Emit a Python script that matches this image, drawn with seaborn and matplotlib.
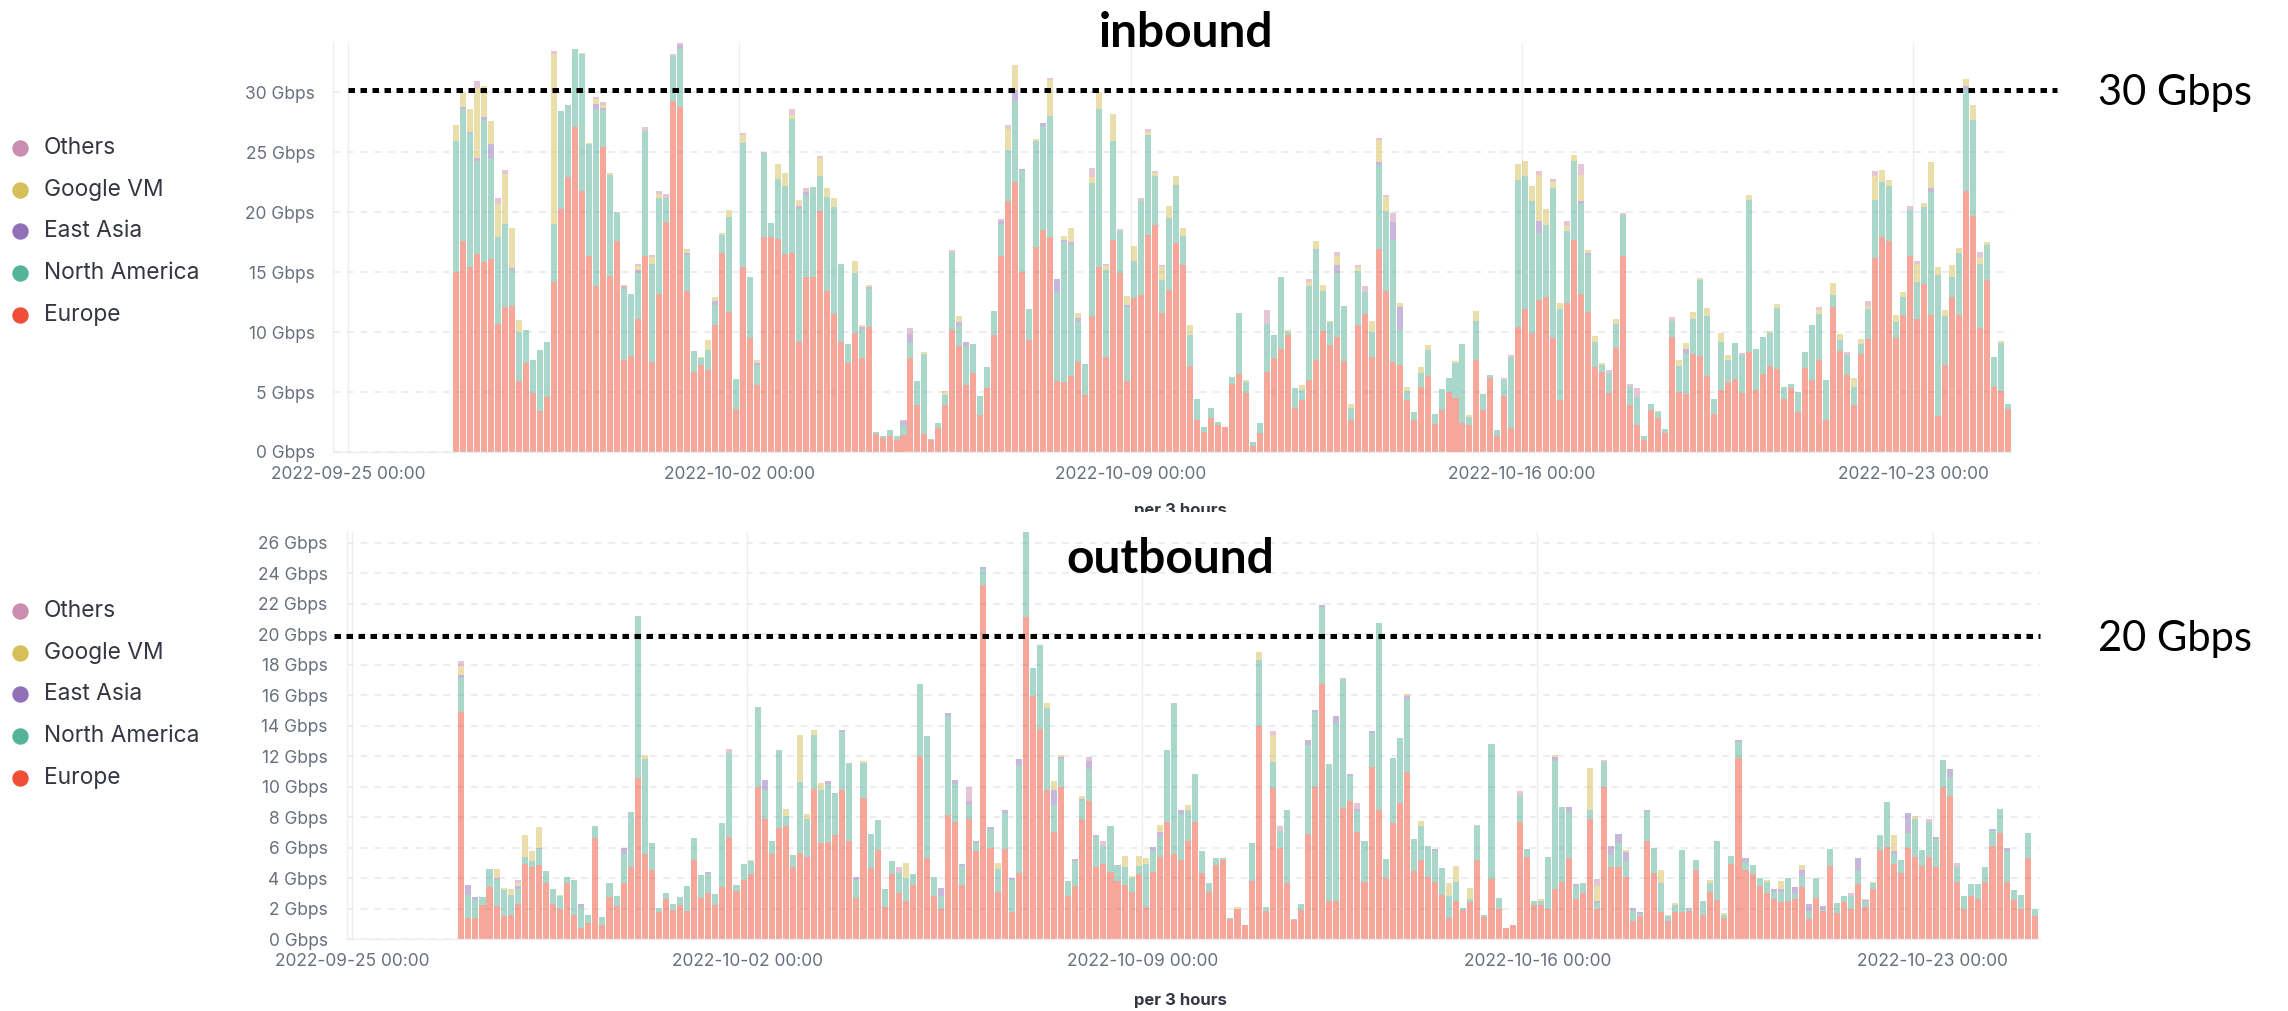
import numpy as np
import pandas as pd
import matplotlib
matplotlib.use("Agg")
import matplotlib.pyplot as plt
import seaborn as sns
from matplotlib.lines import Line2D
from matplotlib.patches import Rectangle

# ---------------- data ----------------
REGIONS = ["Others", "Google VM", "East Asia", "North America", "Europe"]
REGION_COLORS = {"Others": "#CA8EAE", "Google VM": "#D6BF57", "East Asia": "#9170B8",
                 "North America": "#54B399", "Europe": "#F04E37"}

START_HOUR = 45          # first bucket: 2022-09-26 21:00 (hours after 2022-09-25 00:00)
BIN_HOURS = 3
DATE_TICK_HOURS = [0, 168, 336, 504, 672]
DATE_TICK_LABELS = ["2022-09-25 00:00", "2022-10-02 00:00", "2022-10-09 00:00",
                    "2022-10-16 00:00", "2022-10-23 00:00"]
IN_YTICKS = [0, 5, 10, 15, 20, 25, 30]
OUT_YTICKS = [0, 2, 4, 6, 8, 10, 12, 14, 16, 18, 20, 22, 24, 26]
IN_THRESHOLD_LABEL = "30 Gbps"
OUT_THRESHOLD_LABEL = "20 Gbps"

IN_EUROPE = [
    15.0, 17.6, 15.4, 16.5, 15.8, 16.1, 10.7, 12.1, 12.2, 5.9,
    7.4, 4.9, 3.4, 4.6, 14.2, 20.3, 22.9, 27.1, 21.8, 16.3,
    13.8, 25.4, 14.7, 17.6, 7.7, 8.0, 11.1, 16.3, 7.5, 13.2,
    19.2, 29.25, 28.8, 13.4, 6.7, 7.25, 6.8, 10.6, 16.6, 11.7,
    3.6, 15.4, 9.5, 5.6, 17.9, 17.9, 17.75, 16.5, 16.55, 9.2,
    14.6, 14.6, 20.1, 13.4, 11.5, 9.2, 7.45, 9.9, 7.8, 10.4,
    1.5, 1.2, 1.3, 1.0, 1.4, 7.8, 3.9, 1.5, 1.0, 2.0,
    3.9, 10.2, 8.8, 5.55, 6.6, 3.1, 5.3, 9.75, 16.3, 20.9,
    22.5, 15.0, 9.3, 17.1, 18.55, 17.9, 5.9, 5.8, 6.3, 7.5,
    4.75, 11.3, 15.4, 7.95, 17.7, 14.9, 5.95, 12.8, 13.1, 18.1,
    18.9, 11.6, 13.5, 17.4, 15.6, 7.2, 2.7, 1.7, 2.85, 2.25,
    2.05, 5.7, 6.5, 4.9, 0.5, 1.55, 6.7, 7.8, 8.6, 9.75,
    3.7, 4.3, 6.0, 7.65, 10.1, 8.9, 9.6, 7.6, 2.65, 10.6,
    11.5, 7.95, 16.9, 13.4, 7.5, 7.25, 4.3, 2.7, 5.45, 6.3,
    2.3, 3.5, 5.0, 4.5, 2.4, 2.25, 7.65, 3.5, 6.2, 1.35,
    4.65, 2.0, 10.45, 11.9, 9.9, 12.7, 12.95, 9.5, 4.3, 12.4,
    17.7, 13.2, 11.7, 7.05, 6.65, 4.9, 8.7, 16.3, 3.9, 2.25,
    1.0, 3.5, 2.8, 1.55, 9.6, 5.0, 4.8, 8.2, 8.0, 6.35,
    3.2, 5.2, 5.8, 6.1, 4.95, 8.35, 5.2, 6.5, 7.15, 6.9,
    4.4, 5.3, 3.35, 7.0, 6.0, 7.65, 2.65, 12.1, 8.45, 6.4,
    3.9, 8.2, 9.4, 16.2, 17.9, 17.6, 9.5, 11.4, 16.3, 11.1,
    14.0, 11.4, 3.0, 7.25, 12.95, 11.4, 21.8, 19.7, 10.3, 14.3,
    5.45, 5.1, 3.55,
]
IN_NORTH_AMERICA = [
    10.9, 11.0, 11.2, 7.8, 11.9, 8.4, 7.2, 6.9, 3.0, 4.1,
    2.8, 2.8, 5.1, 4.6, 4.8, 8.1, 6.0, 6.5, 11.4, 9.4,
    14.8, 3.1, 8.4, 2.4, 5.9, 5.2, 3.8, 10.5, 8.2, 8.0,
    2.0, 3.8, 4.8, 3.0, 1.7, 0.55, 1.7, 1.65, 1.5, 7.9,
    2.5, 10.4, 5.1, 1.65, 7.0, 1.2, 5.0, 5.7, 11.25, 11.1,
    6.8, 7.5, 2.9, 7.9, 8.9, 6.5, 1.55, 5.0, 2.4, 3.2,
    0.2, 0.1, 0.5, 0.3, 0.85, 1.25, 2.0, 6.7, 0.1, 0.45,
    0.85, 6.35, 1.7, 3.25, 2.4, 1.6, 1.75, 2.0, 2.75, 4.3,
    6.8, 8.4, 2.6, 8.8, 8.65, 10.1, 7.4, 11.7, 10.95, 3.35,
    2.55, 11.1, 13.2, 7.25, 8.2, 3.5, 6.15, 3.1, 7.8, 8.3,
    4.1, 2.7, 6.0, 4.9, 2.4, 2.55, 1.7, 0.4, 0.8, 0.25,
    0.0, 0.55, 5.1, 0.95, 0.35, 0.85, 4.0, 1.95, 6.0, 0.25,
    1.6, 0.9, 7.8, 9.25, 3.35, 1.9, 5.3, 4.6, 1.0, 4.5,
    1.8, 2.05, 7.0, 6.7, 10.2, 2.95, 0.8, 0.6, 1.1, 2.2,
    0.9, 1.75, 1.2, 2.9, 6.6, 0.7, 3.25, 1.3, 0.2, 0.5,
    1.35, 5.95, 12.25, 11.1, 11.0, 5.6, 5.95, 12.55, 7.6, 6.0,
    6.6, 7.5, 4.7, 2.15, 0.6, 1.65, 2.0, 3.5, 1.55, 2.35,
    0.35, 0.5, 0.5, 0.35, 1.3, 2.15, 3.4, 2.9, 6.3, 4.95,
    1.25, 4.0, 1.9, 2.95, 3.15, 12.65, 3.35, 3.1, 2.75, 5.1,
    1.05, 0.4, 1.65, 1.3, 4.6, 3.85, 3.35, 1.0, 0.85, 1.7,
    1.55, 0.8, 2.5, 4.85, 4.6, 4.6, 1.35, 1.55, 3.9, 3.1,
    6.4, 10.3, 11.75, 4.05, 1.65, 5.15, 8.4, 8.0, 5.4, 3.0,
    2.5, 3.95, 0.45,
]
# small series: {bucket index: Gbps}
IN_EAST_ASIA = {1: 0.15, 2: 0.1, 3: 0.25, 4: 0.2, 5: 1.2, 8: 0.15, 20: 0.4, 21: 0.15, 24: 0.2,
                26: 0.3, 32: 0.3, 33: 0.2, 37: 0.3, 43: 0.2, 49: 0.2, 50: 0.3, 58: 0.2, 59: 0.15,
                64: 0.3, 65: 0.8, 72: 0.3, 73: 0.4, 78: 0.25, 80: 0.85, 81: 0.2, 84: 0.2, 86: 1.1,
                87: 0.15, 88: 0.3, 89: 0.35, 96: 0.15, 126: 0.7, 132: 0.3, 134: 1.5, 135: 1.9,
                155: 1.0, 161: 0.2, 162: 0.2, 176: 0.35, 211: 0.35, 216: 0.3}
IN_GOOGLE_VM = {0: 1.4, 1: 1.3, 2: 1.9, 3: 5.8, 4: 2.6, 5: 1.9, 6: 2.8, 7: 4.2, 8: 3.3, 9: 1.0,
                14: 14.2, 18: 0.1, 19: 0.1, 20: 0.4, 21: 0.25, 22: 0.2, 24: 0.15, 26: 0.3, 28: 0.55,
                29: 0.3, 33: 0.2, 35: 0.15, 36: 0.8, 37: 0.4, 38: 0.2, 39: 0.6, 41: 0.6, 43: 0.25,
                46: 1.3, 47: 1.1, 48: 0.3, 49: 0.5, 52: 1.5, 53: 0.7, 54: 0.8, 57: 1.0, 58: 0.2,
                59: 0.2, 67: 0.1, 70: 0.25, 72: 0.55, 79: 1.7, 80: 2.1, 83: 0.2, 85: 3.0, 87: 0.35,
                88: 1.1, 89: 0.4, 91: 0.5, 92: 1.4, 93: 0.3, 94: 2.3, 96: 0.75, 97: 1.3, 99: 0.3,
                100: 0.3, 101: 1.1, 102: 1.05, 103: 0.75, 104: 0.7, 105: 0.8, 113: 0.15, 119: 0.15,
                121: 0.35, 122: 0.4, 123: 0.7, 124: 0.5, 125: 0.1, 126: 0.75, 128: 0.35, 129: 0.3,
                131: 0.95, 132: 1.8, 133: 1.15, 135: 0.3, 136: 0.3, 138: 0.5, 139: 0.4, 143: 0.2,
                145: 0.15, 146: 0.85, 152: 1.3, 153: 1.25, 154: 1.3, 155: 3.8, 156: 1.4, 157: 0.45,
                158: 0.5, 159: 0.45, 160: 0.45, 161: 2.2, 162: 0.2, 163: 0.45, 164: 0.2, 166: 0.35,
                172: 0.15, 175: 0.55, 176: 0.55, 177: 0.55, 178: 0.2, 179: 0.7, 181: 0.7, 182: 0.4,
                185: 0.4, 188: 0.15, 189: 0.35, 195: 0.35, 197: 0.95, 198: 0.55, 200: 0.7, 201: 0.4,
                202: 0.3, 203: 2.0, 204: 1.0, 205: 0.5, 206: 0.55, 207: 0.35, 209: 1.5, 210: 0.35,
                211: 2.1, 212: 0.7, 213: 0.5, 214: 1.0, 215: 0.5, 216: 0.6, 217: 1.25, 218: 0.5,
                219: 0.2, 221: 0.2}
IN_OTHERS = {3: 0.55, 6: 0.5, 7: 0.35, 14: 0.2, 20: 0.2, 21: 0.3, 26: 0.15, 27: 0.3, 28: 0.2,
             29: 0.3, 30: 0.3, 31: 0.1, 32: 0.25, 33: 0.15, 41: 0.2, 44: 0.1, 48: 0.5, 50: 0.35,
             52: 0.15, 64: 0.1, 65: 0.5, 70: 0.1, 71: 0.25, 78: 0.15, 79: 0.4, 85: 0.15, 91: 0.8,
             93: 0.2, 95: 0.2, 98: 0.3, 99: 0.2, 100: 0.15, 101: 0.15, 116: 1.1, 122: 0.2, 126: 0.35,
             129: 0.15, 130: 0.5, 132: 0.2, 133: 0.2, 134: 0.7, 150: 0.2, 151: 0.15, 155: 0.3,
             157: 0.3, 159: 0.4, 161: 0.9, 165: 0.3, 167: 0.15, 168: 0.2, 169: 0.7, 174: 0.35,
             184: 0.15, 195: 0.2, 199: 0.2, 202: 0.35, 203: 0.4, 208: 0.35, 209: 0.25, 218: 0.5}

OUT_EUROPE = [
    14.86, 1.4, 1.4, 2.25, 3.4, 2.15, 1.5, 1.6, 2.3, 4.9,
    4.7, 4.85, 3.65, 2.3, 2.0, 3.65, 1.6, 0.75, 1.05, 6.65,
    0.9, 2.75, 2.15, 3.65, 4.75, 10.55, 5.6, 4.55, 1.8, 2.6,
    1.9, 2.25, 1.85, 5.2, 2.7, 3.0, 2.25, 3.4, 6.7, 3.15,
    3.9, 4.25, 9.95, 7.85, 5.55, 7.25, 7.4, 4.7, 5.65, 5.35,
    9.85, 6.3, 6.35, 6.85, 9.8, 6.4, 2.7, 9.25, 4.65, 5.85,
    2.1, 4.25, 3.05, 2.5, 3.55, 12.0, 5.3, 2.8, 1.95, 8.15,
    7.65, 3.55, 7.9, 5.75, 23.2, 5.95, 3.1, 5.9, 1.75, 4.35,
    21.1, 15.95, 13.8, 9.8, 7.0, 10.0, 2.85, 3.5, 7.85, 9.05,
    4.7, 4.9, 4.4, 3.8, 3.55, 3.1, 4.25, 2.1, 4.4, 5.35,
    7.7, 5.6, 5.15, 6.4, 7.7, 4.35, 3.1, 4.85, 5.2, 1.3,
    2.0, 0.95, 3.8, 13.95, 1.85, 9.9, 5.95, 3.65, 1.25, 1.9,
    6.9, 10.0, 16.7, 2.5, 2.5, 8.6, 9.05, 7.0, 3.75, 11.3,
    8.45, 4.0, 7.6, 8.95, 10.95, 4.45, 5.2, 4.1, 3.75, 2.9,
    1.4, 2.5, 1.9, 2.45, 5.15, 1.45, 3.95, 1.95, 0.7, 0.9,
    7.7, 5.35, 2.25, 2.25, 2.0, 3.3, 3.75, 5.3, 2.65, 3.0,
    7.85, 2.0, 10.0, 4.75, 4.75, 4.05, 1.15, 1.5, 6.45, 4.35,
    1.8, 1.2, 1.75, 1.75, 1.85, 4.5, 1.6, 3.1, 2.55, 1.35,
    4.95, 11.85, 4.55, 4.25, 3.5, 3.05, 2.65, 2.4, 2.5, 2.65,
    3.4, 1.3, 2.7, 1.85, 4.8, 1.7, 2.4, 1.95, 3.6, 2.1,
    3.3, 5.85, 6.05, 4.95, 4.3, 6.0, 5.35, 4.8, 5.4, 4.75,
    9.95, 9.35, 3.75, 2.0, 2.8, 2.6, 3.75, 6.1, 6.95, 3.75,
    2.55, 1.95, 5.3, 1.5,
]
OUT_NORTH_AMERICA = [
    2.25, 1.5, 1.15, 0.5, 1.2, 1.75, 1.7, 1.3, 1.0, 0.5,
    0.4, 1.05, 0.8, 1.0, 0.8, 0.45, 2.3, 1.35, 0.55, 0.75,
    0.55, 0.9, 0.65, 1.9, 3.55, 10.65, 6.2, 1.75, 0.25, 0.45,
    0.4, 0.5, 1.6, 1.4, 1.5, 1.25, 0.7, 4.2, 5.5, 0.4,
    1.05, 0.85, 5.3, 1.95, 0.9, 5.15, 0.65, 0.8, 4.65, 2.55,
    3.55, 3.5, 3.8, 2.7, 3.8, 5.15, 1.15, 2.3, 2.25, 1.95,
    1.15, 0.85, 1.35, 1.5, 0.7, 4.7, 8.0, 1.25, 0.85, 6.5,
    2.5, 1.25, 0.9, 0.55, 1.1, 1.25, 1.5, 2.35, 2.1, 7.0,
    5.6, 1.8, 5.5, 5.35, 1.8, 1.8, 0.95, 1.6, 1.2, 2.1,
    2.0, 1.2, 3.0, 1.05, 1.2, 0.9, 0.55, 2.85, 1.4, 1.35,
    4.7, 9.9, 3.05, 2.05, 3.15, 1.4, 0.55, 0.45, 0.1, 0.05,
    0.0, 0.0, 2.5, 4.35, 0.25, 1.7, 1.15, 4.8, 0.05, 0.4,
    5.85, 4.9, 5.1, 8.95, 11.65, 8.45, 1.65, 1.4, 2.7, 2.2,
    12.3, 1.25, 4.3, 4.25, 4.8, 2.1, 2.2, 2.0, 2.05, 1.75,
    1.4, 1.25, 0.15, 0.2, 2.25, 0.1, 8.85, 0.75, 0.0, 0.0,
    1.7, 0.55, 0.25, 0.25, 3.4, 8.4, 4.9, 3.05, 0.8, 0.7,
    0.6, 0.35, 1.6, 0.75, 1.55, 1.05, 0.7, 0.15, 1.9, 1.65,
    1.85, 0.3, 0.5, 4.1, 0.1, 0.7, 0.9, 0.55, 3.9, 0.25,
    0.5, 1.1, 0.5, 0.6, 0.5, 0.7, 0.45, 0.7, 1.5, 0.3,
    0.75, 0.55, 1.3, 0.15, 1.1, 0.65, 0.4, 0.85, 0.85, 0.3,
    0.35, 0.95, 2.95, 0.65, 0.85, 0.95, 2.55, 1.05, 2.3, 1.8,
    1.8, 1.3, 0.95, 0.8, 0.8, 1.0, 0.95, 1.0, 1.55, 2.05,
    0.65, 0.95, 1.65, 0.45,
]
OUT_EAST_ASIA = {0: 0.2, 1: 0.65, 2: 0.2, 5: 0.1, 8: 0.15, 11: 0.1, 17: 0.2, 23: 0.45, 35: 0.15,
                 43: 0.6, 52: 0.2, 54: 0.1, 56: 0.25, 68: 0.55, 69: 0.15, 70: 0.3, 71: 0.1, 72: 0.25,
                 73: 0.1, 74: 0.1, 75: 0.15, 77: 0.2, 78: 0.15, 79: 0.45, 84: 1.0, 85: 0.15, 87: 0.15,
                 88: 0.15, 89: 0.5, 90: 0.15, 98: 0.25, 99: 0.3, 102: 0.25, 120: 0.3, 121: 0.1,
                 122: 0.1, 124: 0.5, 126: 0.1, 127: 0.15, 129: 0.15, 134: 0.2, 138: 0.1, 155: 0.25,
                 157: 0.3, 158: 0.15, 161: 0.15, 163: 0.6, 164: 0.6, 165: 0.6, 166: 0.2, 167: 0.15,
                 168: 0.1, 174: 0.1, 181: 0.1, 182: 0.25, 186: 0.2, 187: 0.2, 189: 0.45, 190: 0.4,
                 191: 0.45, 193: 0.15, 198: 0.85, 199: 0.15, 203: 0.15, 205: 1.3, 209: 0.15,
                 211: 0.5, 217: 0.1, 219: 0.2}
OUT_GOOGLE_VM = {0: 0.6, 5: 0.6, 6: 0.15, 7: 0.35, 8: 0.2, 9: 1.45, 10: 0.7, 11: 1.35, 14: 0.1,
                 26: 0.25, 41: 0.05, 46: 0.45, 48: 3.1, 49: 0.3, 50: 0.3, 51: 0.45, 57: 0.1, 63: 1.0,
                 76: 0.4, 80: 0.1, 83: 0.35, 84: 0.55, 85: 0.1, 88: 0.15, 94: 0.7, 95: 0.15, 96: 0.65,
                 97: 0.35, 99: 0.5, 103: 0.35, 110: 0.1, 113: 0.5, 115: 1.8, 134: 0.1, 136: 0.35,
                 140: 0.85, 141: 1.05, 143: 0.7, 153: 0.1, 155: 0.1, 160: 2.8, 161: 1.0, 165: 0.15,
                 170: 0.9, 171: 0.1, 172: 0.1, 177: 0.2, 179: 0.1, 185: 0.15, 187: 0.5, 190: 0.3,
                 199: 0.1, 200: 0.1, 203: 1.05, 206: 0.15}
OUT_OTHERS = {0: 0.3, 8: 0.25, 38: 0.25, 62: 0.35, 72: 0.9, 89: 0.3, 91: 0.3, 115: 0.25, 116: 0.3,
              125: 0.1, 127: 0.35, 144: 0.1, 150: 0.3, 161: 0.45, 162: 0.15, 197: 0.2, 208: 0.15,
              212: 0.3}

# ---------------- helpers ----------------
W, H = 2288, 1011


def fx(px):
    return px / W


def fy(py):
    return 1 - py / H


def dense(sparse, n):
    arr = np.zeros(n)
    for k, v in sparse.items():
        if k < n:
            arr[k] = v
    return arr


def build_frame(europe, north_america, east_asia, google_vm, others):
    n = len(europe)
    hours = START_HOUR + BIN_HOURS * np.arange(n) + BIN_HOURS / 2
    na = np.zeros(n)
    na[:min(n, len(north_america))] = north_america[:n]
    series = {
        "Others": dense(others, n),
        "Google VM": dense(google_vm, n),
        "East Asia": dense(east_asia, n),
        "North America": na,
        "Europe": np.asarray(europe, float),
    }
    parts = [pd.DataFrame({"hour": hours, "region": r, "gbps": v}) for r, v in series.items()]
    return pd.concat(parts, ignore_index=True), n


sns.set_theme(style="white")
plt.rcParams["font.family"] = ["Inter", "DejaVu Sans"]

TICK_COLOR = "#69707D"
TEXT_COLOR = "#343741"
GRID_COLOR = "#E6E8EC"

fig = plt.figure(figsize=(W / 100, H / 100), dpi=100)

panels = [
    dict(data=(IN_EUROPE, IN_NORTH_AMERICA, IN_EAST_ASIA, IN_GOOGLE_VM, IN_OTHERS),
         box=(333, 43, 2011, 452), xlim=(-6.44, 714.0), ylim=(0, 34.1), yticks=IN_YTICKS,
         ypad=13, legend_y=148, xlabel_y=510),
    dict(data=(OUT_EUROPE, OUT_NORTH_AMERICA, OUT_EAST_ASIA, OUT_GOOGLE_VM, OUT_OTHERS),
         box=(347, 532, 2040, 939), xlim=(-2.1, 717.7), ylim=(0, 26.7), yticks=OUT_YTICKS,
         ypad=14, legend_y=611, xlabel_y=1001),
]

for p in panels:
    x0, y0, x1, y1 = p["box"]
    ax = fig.add_axes([fx(x0), fy(y1), (x1 - x0) / W, (y1 - y0) / H])
    df, n = build_frame(*p["data"])
    sns.histplot(data=df, x="hour", weights="gbps", hue="region", hue_order=REGIONS,
                 multiple="stack", binwidth=BIN_HOURS,
                 binrange=(START_HOUR, START_HOUR + BIN_HOURS * n),
                 palette=REGION_COLORS, alpha=0.5, linewidth=0, shrink=0.86,
                 legend=False, ax=ax)
    ax.set_xlim(*p["xlim"])
    ax.set_ylim(*p["ylim"])
    ax.set_yticks(p["yticks"])
    ax.set_yticklabels([f"{v} Gbps" for v in p["yticks"]])
    ax.set_xticks(DATE_TICK_HOURS)
    ax.set_xticklabels(DATE_TICK_LABELS)
    ax.set_xlabel("")
    ax.set_ylabel("")
    ax.tick_params(axis="y", length=0, pad=p["ypad"], labelsize=12.5, labelcolor=TICK_COLOR)
    ax.tick_params(axis="x", length=0, pad=10, labelsize=12.5, labelcolor=TICK_COLOR)
    ax.set_axisbelow(True)
    ax.yaxis.grid(True, linestyle=(0, (4.5, 4.5)), color=GRID_COLOR, linewidth=1.1)
    ax.xaxis.grid(True, linestyle="-", color="#EDEEF1", linewidth=1.0)
    for s in ["top", "right"]:
        ax.spines[s].set_visible(False)
    for s in ["left", "bottom"]:
        ax.spines[s].set_color("#EDEEF1")
        ax.spines[s].set_linewidth(1.0)

    # legend (manual, Kibana style)
    for i, region in enumerate(REGIONS):
        ly = p["legend_y"] + i * 41.7
        fig.add_artist(Line2D([fx(20)], [fy(ly)], transform=fig.transFigure, marker="o",
                              markersize=10.8, color=REGION_COLORS[region], linestyle="none"))
        fig.text(fx(44), fy(ly), region, fontsize=16.4, color=TEXT_COLOR, va="center", ha="left")

    fig.text(fx(1180), fy(p["xlabel_y"]), "per 3 hours", fontsize=12, fontweight="bold",
             color=TEXT_COLOR, ha="center", va="center")

# cover the lower part of the upper panel's axis title (screenshot overlap)
fig.add_artist(Rectangle((fx(1090), fy(530)), 190 / W, 18 / H, transform=fig.transFigure,
                         facecolor="white", edgecolor="none", zorder=4))

# threshold lines and labels
dot_style = dict(transform=fig.transFigure, color="black", linewidth=3.6,
                 linestyle=(0, (1.3, 1.1)), dash_capstyle="butt", zorder=6)
fig.add_artist(Line2D([fx(348), fx(2057)], [fy(90), fy(90)], **dot_style))
fig.add_artist(Line2D([fx(334), fx(2040)], [fy(636), fy(636)], **dot_style))
fig.text(fx(2098), fy(105), IN_THRESHOLD_LABEL, fontsize=30, family="Lato", color="black",
         ha="left", va="baseline", zorder=6)
fig.text(fx(2098), fy(651), OUT_THRESHOLD_LABEL, fontsize=30, family="Lato", color="black",
         ha="left", va="baseline", zorder=6)

# panel titles
fig.text(fx(1186), fy(47), "inbound", fontsize=34.5, family="Lato", fontweight="bold",
         color="black", ha="center", va="baseline", zorder=6)
fig.text(fx(1170), fy(573), "outbound", fontsize=34.5, family="Lato", fontweight="bold",
         color="black", ha="center", va="baseline", zorder=6)

fig.savefig("out.png", dpi=100, facecolor="white")
